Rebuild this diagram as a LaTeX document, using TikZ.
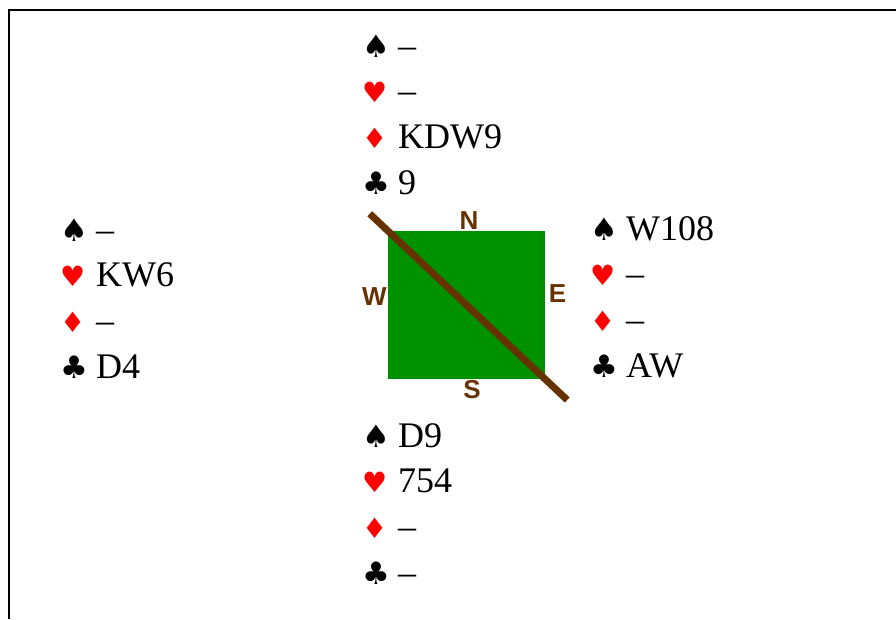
\documentclass[tikz,border=0pt]{standalone}
\usepackage{fontspec}
\setmainfont{Liberation Serif}
\newfontfamily\suitfont{DejaVu Sans}
\newfontfamily\compassfont{Liberation Sans}
\usetikzlibrary{calc}
\definecolor{felt}{RGB}{0,145,0}
\definecolor{wood}{RGB}{102,51,0}
\newcommand\blacksuit[1]{\makebox[36pt][l]{\suitfont\fontsize{31}{31}\selectfont #1}}
\newcommand\redsuit[1]{\makebox[36pt][l]{\color{red}\suitfont\fontsize{28}{28}\selectfont #1}}
\newcommand\cardhand[6]{%
  \begin{scope}[shift={(#2)}]
    \node[cards] (#1s) at (0,0) {\blacksuit{♠}#3};
    \node[cards] (#1h) at (0,45.7) {\redsuit{♥}#4};
    \node[cards] (#1d) at (0,91.4) {\redsuit{♦}#5};
    \node[cards] (#1c) at (0,137.1) {\blacksuit{♣}#6};
  \end{scope}}
\tikzset{
  cards/.style={anchor=base west, inner sep=0pt, font=\fontsize{36}{36}\selectfont},
  compass/.style={inner sep=0pt, text=wood, font=\compassfont\bfseries\fontsize{26}{26}\selectfont}
}
\begin{document}
\begin{tikzpicture}[x=1pt,y=-1pt]
  \useasboundingbox (0,0) rectangle (896,619);
  \draw[line width=1.3pt] (9,619) -- (9,10) -- (896,10);
  % the four hands
  \cardhand{north}{362,57}{–}{–}{KDW9}{9}
  \cardhand{west}{60,241}{–}{KW6}{–}{D4}
  \cardhand{east}{590,240}{W108}{–}{–}{AW}
  \cardhand{south}{362,447}{D9}{754}{–}{–}
  % table
  \node[fill=felt, minimum width=157pt, minimum height=148pt, inner sep=0pt] (table) at (466.5,305) {};
  \node[compass] (n) at (469,221) {N};
  \node[compass] (w) at (374.5,296.5) {W};
  \node[compass] (e) at (557.5,293.5) {E};
  \node[compass] (s) at (472,389.5) {S};
  \draw[wood, line width=7pt] ($(table.north west)!-0.115!(table.south east)$) -- ($(table.south east)!-0.14!(table.north west)$);
\end{tikzpicture}
\end{document}
